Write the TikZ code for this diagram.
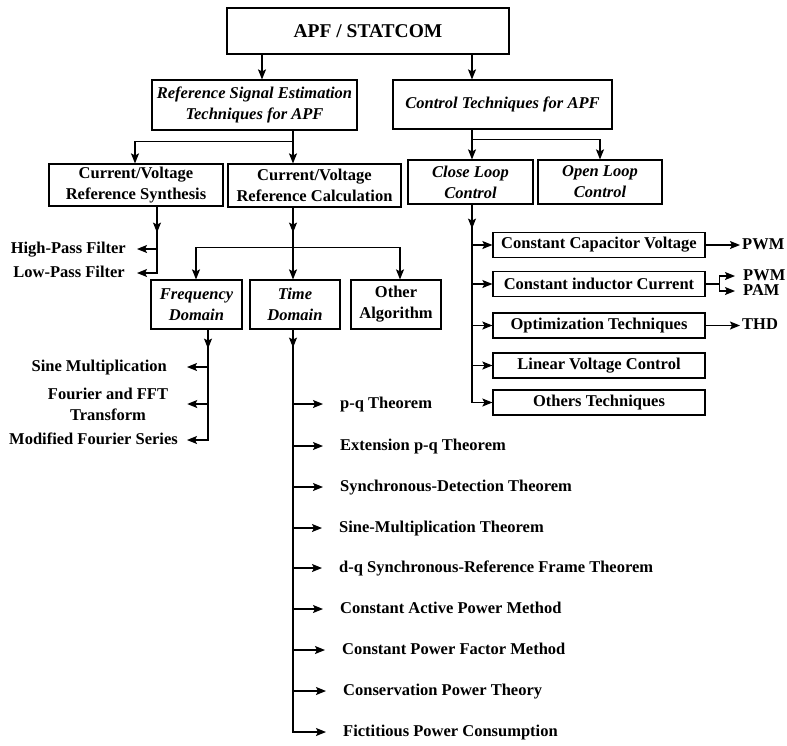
\documentclass[tikz,border=0pt]{standalone}
\usepackage{fontspec}
\setmainfont{Liberation Serif}
\usetikzlibrary{arrows.meta,calc}
\begin{document}
\begin{tikzpicture}[x=1pt,y=-1pt,
  every node/.style={font=\bfseries\fontsize{16.5}{21}\selectfont},
  box/.style={draw,line width=1.2pt,inner sep=0pt,align=center},
  ibox/.style={box,font=\bfseries\itshape\fontsize{16.5}{21}\selectfont},
  lbl/.style={inner sep=0pt,text height=12pt,text depth=3.5pt},
  arr/.style={line width=1.2pt,-{Stealth[length=10pt,width=8pt,inset=2pt]}},
  ln/.style={line width=1.2pt}]
\useasboundingbox (0,0) rectangle (787,745);

% columns
\coordinate (cA) at (262,0);
\coordinate (cB) at (472,0);
\coordinate (cC) at (293,0);
\coordinate (cD) at (135,0);
\coordinate (cE) at (157,0);
\coordinate (cF) at (196,0);
\coordinate (cG) at (400,0);
\coordinate (cH) at (208,0);

% boxes
\node[box,minimum width=282pt,minimum height=46pt,font=\bfseries\fontsize{19.5}{23}\selectfont] (apf) at (368,31) {APF / STATCOM};
\node[ibox,minimum width=205pt,minimum height=50pt] (ref) at (254.5,105) {Reference Signal Estimation\\Techniques for APF};
\node[ibox,minimum width=219pt,minimum height=49pt] (ctrl) at (502.5,104.5) {Control Techniques for APF};
\node[box,minimum width=174pt,minimum height=42pt] (synth) at (136,185) {Current/Voltage\\Reference Synthesis};
\node[box,minimum width=173pt,minimum height=43pt] (calc) at (314.5,185.5) {Current/Voltage\\Reference Calculation};
\node[ibox,minimum width=125pt,minimum height=44pt] (close) at (470.5,182) {Close Loop\\Control};
\node[ibox,minimum width=124pt,minimum height=44pt] (open) at (600,182) {Open Loop\\Control};
\node[ibox,minimum width=91pt,minimum height=49pt] (freq) at (196.5,304.5) {Frequency\\Domain};
\node[ibox,minimum width=90pt,minimum height=49pt] (time) at (295,304.5) {Time\\Domain};
\node[box,minimum width=90pt,minimum height=49pt] (other) at (396,304.5) {Other\\Algorithm};

\node[box,minimum width=212pt,minimum height=25pt] (ccv) at (599,245) {Constant Capacitor Voltage};
\node[box,minimum width=212pt,minimum height=25pt] (cic) at (599,284) {Constant inductor Current};
\node[box,minimum width=212pt,minimum height=25pt] (opt) at (599,325.5) {Optimization Techniques};
\node[box,minimum width=212pt,minimum height=25pt] (lvc) at (599,365.5) {Linear Voltage Control};
\node[box,minimum width=212pt,minimum height=25pt] (oth) at (599,402.5) {Others Techniques};

% right labels
\node[lbl,anchor=west] (pwm1) at (742,245) {PWM};
\node[lbl,anchor=west] (pwm2) at (743,276) {PWM};
\node[lbl,anchor=west] (pam) at (743,291) {PAM};
\node[lbl,anchor=west] (thd) at (742,325.5) {THD};

% left labels
\node[lbl,anchor=east] (hp) at (126,249) {High-Pass Filter};
\node[lbl,anchor=east] (lp) at (125,273) {Low-Pass Filter};
\node[lbl,anchor=east] (sm) at (167,367) {Sine Multiplication};
\node[inner sep=0pt,align=center] (ff) at (108,404) {Fourier and FFT\\Transform};
\node[lbl,anchor=east] (mfs) at (178,440) {Modified Fourier Series};

% time-domain labels
\node[lbl,anchor=west] (t1) at (340,404) {p-q Theorem};
\node[lbl,anchor=west] (t2) at (340,446) {Extension p-q Theorem};
\node[lbl,anchor=west] (t3) at (340,487) {Synchronous-Detection Theorem};
\node[lbl,anchor=west] (t4) at (339,528) {Sine-Multiplication Theorem};
\node[lbl,anchor=west] (t5) at (339,568) {d-q Synchronous-Reference Frame Theorem};
\node[lbl,anchor=west] (t6) at (340,609) {Constant Active Power Method};
\node[lbl,anchor=west] (t7) at (342,650) {Constant Power Factor Method};
\node[lbl,anchor=west] (t8) at (343,691) {Conservation Power Theory};
\node[lbl,anchor=west] (t9) at (343,732) {Fictitious Power Consumption};

% top connectors
\draw[arr] (apf.south -| cA) -- (ref.north -| cA);
\draw[arr] (apf.south -| cB) -- (ctrl.north -| cB);
\draw[arr] (ref.south -| cC) -- (calc.north -| cC);
\draw[arr] (ref.south -| cC) -- ++(0,11) -| (synth.north -| cD);
\draw[arr] (ctrl.south -| cB) -- (close.north -| cB);
\draw[arr] (ctrl.south -| cB) -- ++(0,10) -| (open.north);

% synthesis trunk
\draw[arr] (synth.south -| cE) -- ++(0,26);
\draw[arr,shorten >=11pt] (synth.south -| cE) |- (hp.east);
\draw[arr,shorten >=12pt] (synth.south -| cE) |- (lp.east);

% calculation trunk
\draw[arr] (calc.south -| cC) -- ++(0,25);
\draw[arr] (calc.south -| cC) -- (time.north -| cC);
\draw[arr] (calc.south -| cC) -- ++(0,40) -| (freq.north -| cF);
\draw[arr] (calc.south -| cC) -- ++(0,40) -| (other.north -| cG);

% frequency trunk
\draw[arr] (freq.south -| cH) -- ++(0,19);
\draw[arr,shorten >=20pt] (freq.south -| cH) |- (sm.east);
\draw[arr,shorten >=19pt] (freq.south -| cH) |- (ff.east);
\draw[arr,shorten >=9pt] (freq.south -| cH) |- (mfs.east);

% time trunk
\draw[arr] (time.south -| cC) -- ++(0,18);
\foreach \t in {t1,t2,t3,t4,t5,t6,t7,t8,t9}
  \draw[arr,shorten >=17pt] (time.south -| cC) |- (\t.west);

% close loop trunk
\draw[arr] (close.south -| cB) -- ++(0,24);
\foreach \b in {ccv,cic,opt,lvc,oth}
  \draw[arr] (close.south -| cB) |- (\b.west);

% outputs
\draw[arr,shorten >=2pt] (ccv.east) -- (pwm1.west);
\draw[ln] (cic.east) -- ++(14,0) coordinate (cj);
\draw[arr,shorten >=8pt] (cj) |- (pwm2.west);
\draw[arr,shorten >=8pt] (cj) |- (pam.west);
\draw[arr,shorten >=2pt] (opt.east) -- (thd.west);
\end{tikzpicture}
\end{document}
